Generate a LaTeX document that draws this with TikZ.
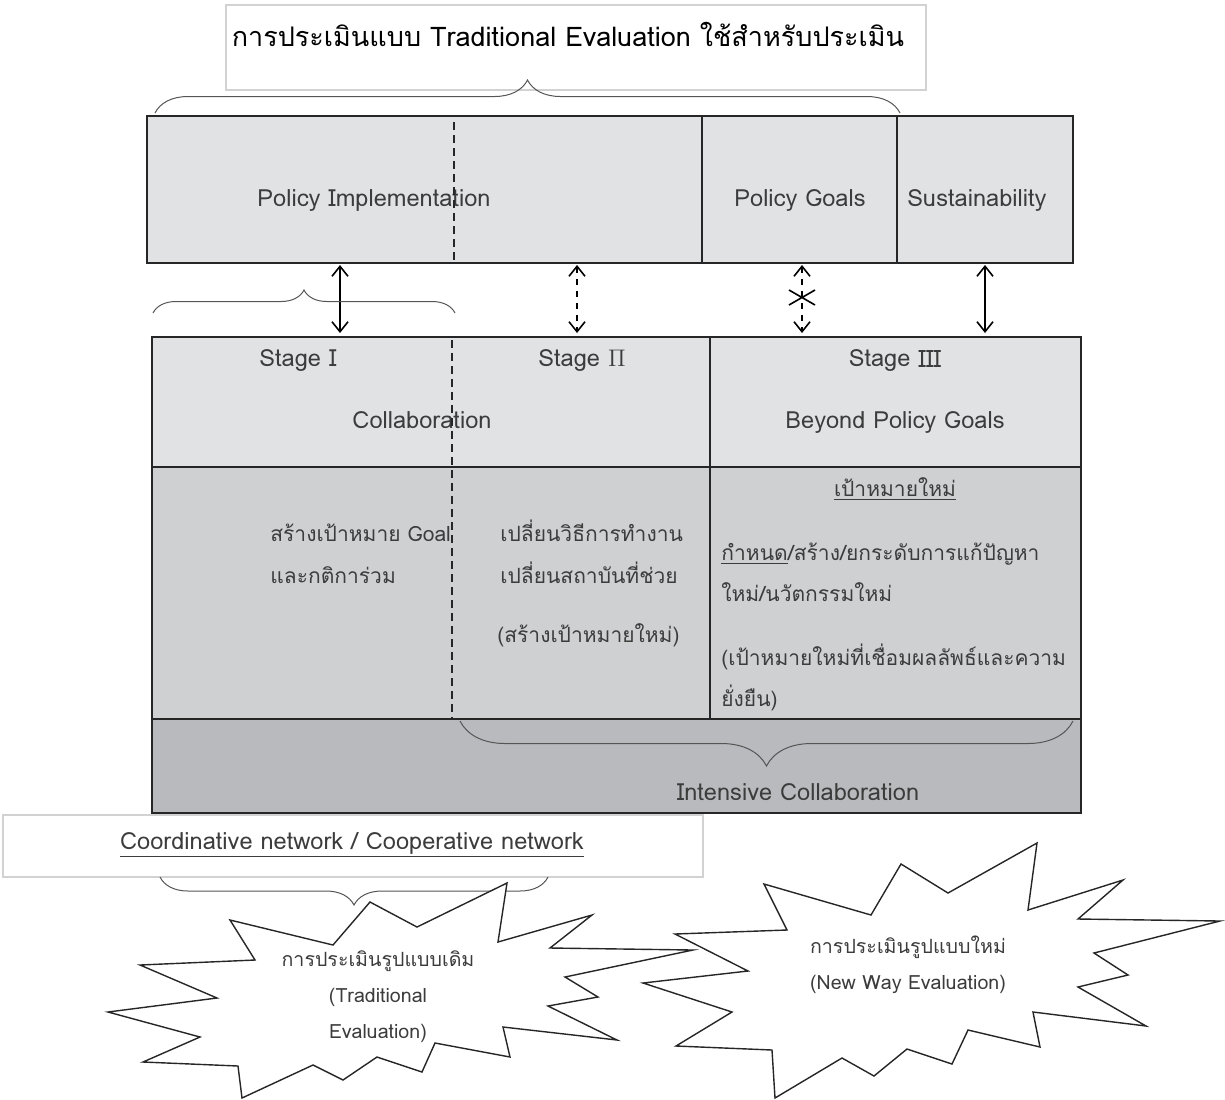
\documentclass[tikz,border=0pt]{standalone}
\usepackage{fontspec}
\setmainfont[Script=Thai]{Loma}
\usetikzlibrary{arrows.meta,decorations.pathreplacing}

\definecolor{rowlight}{HTML}{E1E2E4}
\definecolor{rowmid}{HTML}{CFD0D2}
\definecolor{rowdark}{HTML}{B9BABD}
\definecolor{txtgrey}{HTML}{3C3C3C}
\definecolor{framegrey}{HTML}{D2D2D2}
\definecolor{bracegrey}{HTML}{555555}

\tikzset{
  cell/.style={rectangle,draw=black!85,line width=1pt,inner sep=0pt,outer sep=0pt},
  lbl/.style={text=txtgrey,font=\fontsize{10.5}{21}\selectfont,inner sep=0pt},
  lbllat/.style={lbl,font=\fontsize{11.8}{21}\selectfont},
  burstlbl/.style={lbl,font=\fontsize{9.8}{12}\selectfont},
  divline/.style={draw=black!85,line width=0.8pt},
  divdash/.style={draw=black!85,line width=0.8pt,dash pattern=on 4pt off 2.5pt},
  dblarrow/.style={line width=0.8pt,{Straight Barb[length=5pt,width=8pt]}-{Straight Barb[length=5pt,width=8pt]},shorten <=1pt,shorten >=2pt},
  curly/.style={draw=bracegrey,line width=0.5pt,decorate,decoration={brace,amplitude=#1}},
  burst/.style={draw=black!85,line width=0.7pt,fill=white,line join=miter}
}

\begin{document}
\begin{tikzpicture}[x=0.5pt,y=-0.5pt]
\useasboundingbox (0,0) rectangle (1225,1099);

% title on top
\node (titlebox) at (576,47.5) [rectangle,draw=framegrey,line width=0.6pt,minimum width=350pt,minimum height=42.5pt] {};
\node (titletxt) at (568,46) [anchor=base,inner sep=0pt,font=\fontsize{13.5}{16}\selectfont] {การประเมินแบบ Traditional Evaluation ใช้สำหรับประเมิน};
\draw[curly=16.5pt] (155,113) -- (900,113);

% first row
\node (impl) at (424.5,189.5) [cell,fill=rowlight,minimum width=277.5pt,minimum height=73.5pt] {};
\node (goals) at (799.5,189.5) [cell,fill=rowlight,minimum width=97.5pt,minimum height=73.5pt] {};
\node (sust) at (985,189.5) [cell,fill=rowlight,minimum width=88pt,minimum height=73.5pt] {};
\node (impltxt) at (374,206) [lbllat,anchor=base] {Policy Implementation};
\node (goalstxt) at (800,206) [lbllat,anchor=base] {Policy Goals};
\node (susttxt) at (977,206) [lbllat,anchor=base] {Sustainability};
\draw[divdash] (454,122) -- (454,263);

% stages
\node (collab) at (431,402) [cell,fill=rowlight,minimum width=279pt,minimum height=65pt] {};
\node (beyond) at (895.5,402) [cell,fill=rowlight,minimum width=185.5pt,minimum height=65pt] {};
\node (stA) at (298,366) [lbllat,anchor=base] {Stage $\mathrm{I}$};
\node (stB) at (582,366) [lbllat,anchor=base] {Stage $\Pi$};
\node (stC) at (895,366) [lbllat,anchor=base] {Stage \raisebox{-0.5pt}{\large$\mathrm{III}$}};
\node (collabtxt) at (422,428) [lbllat,anchor=base] {Collaboration};
\node (beyondtxt) at (895,428) [lbllat,anchor=base] {Beyond Policy Goals};

\node (oldgoal) at (431,593) [cell,fill=rowmid,minimum width=279pt,minimum height=126pt] {};
\node (newgoal) at (895.5,593) [cell,fill=rowmid,minimum width=185.5pt,minimum height=126pt] {};
\node (goalA) at (270,541) [lbl,anchor=base west] {สร้างเป้าหมาย Goal};
\node (goalB) at (270,583) [lbl,anchor=base west] {และกติการ่วม};
\node (waysA) at (500,541) [lbl,anchor=base west] {เปลี่ยนวิธีการทำงาน};
\node (waysB) at (500,583) [lbl,anchor=base west] {เปลี่ยนสถาบันที่ช่วย};
\node (waysC) at (497,642) [lbl,anchor=base west] {(สร้างเป้าหมายใหม่)};
\node (newhead) at (895,496) [lbl,anchor=base] {\underline{เป้าหมายใหม่}};
\node (newA) at (721,560) [lbl,anchor=base west] {\underline{กำหนด}/สร้าง/ยกระดับการแก้ปัญหา};
\node (newB) at (721,601) [lbl,anchor=base west] {ใหม่/นวัตกรรมใหม่};
\node (newC) at (721,665) [lbl,anchor=base west] {(เป้าหมายใหม่ที่เชื่อมผลลัพธ์และความ};
\node (newD) at (721,706) [lbl,anchor=base west] {ยั่งยืน)};
\draw[divdash] (452,340) -- (452,718);

\node (intense) at (616.5,766) [cell,fill=rowdark,minimum width=464.5pt,minimum height=47pt] {};
\node (intensetxt) at (798,800) [lbllat,anchor=base] {Intensive Collaboration};
\draw[curly=22.5pt] (1073,721) -- (460,721);

% links between the rows
\coordinate (xa) at (340,0);
\coordinate (xb) at (577,0);
\coordinate (xc) at (802,0);
\coordinate (xd) at (985,0);
\draw[dblarrow] (impl.south -| xa) -- (collab.north -| xa);
\draw[dblarrow,dashed] (impl.south -| xb) -- (collab.north -| xb);
\draw[dblarrow,dashed] (goals.south -| xc) -- (beyond.north -| xc);
\draw[dblarrow] (sust.south -| xd) -- (beyond.north -| xd);
\draw[line width=0.8pt] (789,290) -- (815,305) (789,305) -- (815,290);
\draw[curly=11.5pt] (153,313) -- (455,313);

% network label
\node (netbox) at (353,846) [rectangle,draw=framegrey,line width=0.6pt,minimum width=350pt,minimum height=31pt] {};
\node (nettxt) at (352,849) [lbllat,anchor=base] {\underline{Coordinative network / Cooperative network}};
\draw[curly=14pt] (548,877) -- (160,877);

% the two bursts
\draw[burst] (230,920) -- (333,945) -- (370,902) -- (417,927) -- (507,883) -- (498,942)
  -- (592,915) -- (550,948) -- (693,950) -- (565,977) -- (598,997) -- (548,1006)
  -- (617,1040) -- (503,1027) -- (510,1057) -- (435,1043) -- (422,1072) -- (377,1057)
  -- (343,1080) -- (313,1065) -- (242,1098) -- (238,1066) -- (143,1062) -- (200,1037)
  -- (108,1012) -- (217,998) -- (140,965) -- (255,960) -- cycle;
\node (oldA) at (378,966) [burstlbl,anchor=base] {การประเมินรูปแบบเดิม};
\node (oldB) at (378,1002) [burstlbl,anchor=base] {(Traditional};
\node (oldC) at (378,1038) [burstlbl,anchor=base] {Evaluation)};

\draw[burst] (675,934) -- (787,930) -- (764,884) -- (871,915) -- (901,864) -- (948,893)
  -- (1037,843) -- (1028,910) -- (1123,880) -- (1078,919) -- (1220,921) -- (1094,953)
  -- (1128,975) -- (1078,987) -- (1146,1026) -- (1033,1012) -- (1040,1047) -- (968,1030)
  -- (952,1064) -- (907,1049) -- (874,1076) -- (842,1058) -- (775,1098) -- (772,1050)
  -- (676,1046) -- (732,1012) -- (643,983) -- (748,971) -- cycle;
\node (newwayA) at (908,953) [burstlbl,anchor=base] {การประเมินรูปแบบใหม่};
\node (newwayB) at (908,989) [burstlbl,anchor=base] {(New Way Evaluation)};
\end{tikzpicture}
\end{document}
